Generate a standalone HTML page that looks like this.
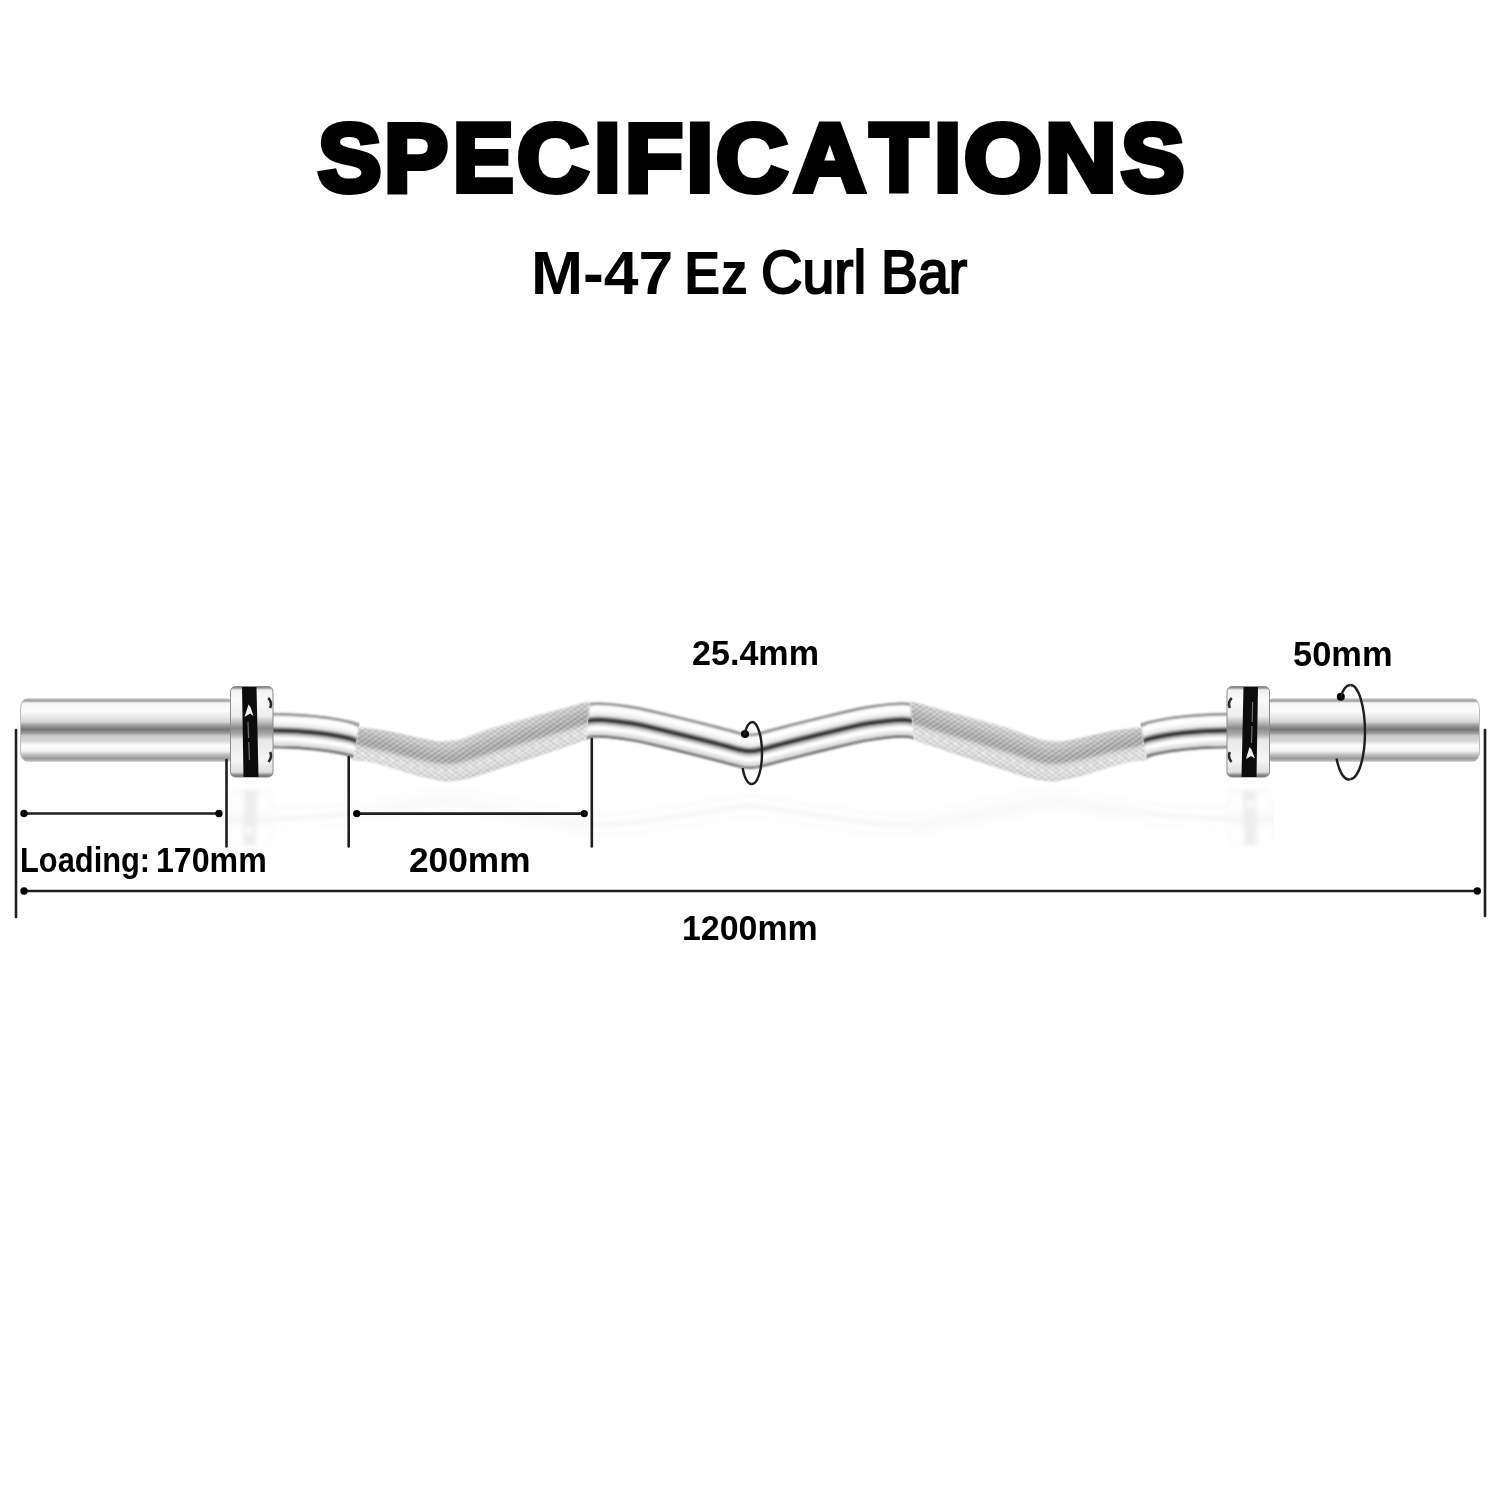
<!DOCTYPE html>
<html><head><meta charset="utf-8"><style>
html,body{margin:0;padding:0;background:#fff;}
body{width:1500px;height:1500px;position:relative;overflow:hidden;}
.t{position:absolute;white-space:pre;font-family:"Liberation Sans",sans-serif;font-weight:bold;color:#000;transform-origin:0 0;}
svg{position:absolute;left:0;top:0;}
</style></head><body>
<svg width="1500" height="1500" viewBox="0 0 1500 1500">
<defs>
<linearGradient id="sg" gradientUnits="userSpaceOnUse" x1="0" y1="698" x2="0" y2="763"><stop offset="0.0000" stop-color="#ffffff"/><stop offset="0.0231" stop-color="#b0b0b0"/><stop offset="0.0462" stop-color="#a2a2a2"/><stop offset="0.0769" stop-color="#f6f6f6"/><stop offset="0.2000" stop-color="#fbfbfb"/><stop offset="0.2769" stop-color="#ececec"/><stop offset="0.3692" stop-color="#d6d6d6"/><stop offset="0.4154" stop-color="#a2a2a2"/><stop offset="0.4846" stop-color="#767676"/><stop offset="0.5385" stop-color="#999999"/><stop offset="0.5846" stop-color="#cccccc"/><stop offset="0.6615" stop-color="#d6d6d6"/><stop offset="0.7231" stop-color="#fbfbfb"/><stop offset="0.8154" stop-color="#f4f4f4"/><stop offset="0.8769" stop-color="#bcbcbc"/><stop offset="0.9308" stop-color="#9c9c9c"/><stop offset="0.9692" stop-color="#b4b4b4"/><stop offset="1.0000" stop-color="#ffffff"/></linearGradient>
<linearGradient id="cg" gradientUnits="userSpaceOnUse" x1="0" y1="686" x2="0" y2="777"><stop offset="0.0000" stop-color="#6a6a6a"/><stop offset="0.0220" stop-color="#9a9a9a"/><stop offset="0.0440" stop-color="#f0f0f0"/><stop offset="0.1538" stop-color="#fafafa"/><stop offset="0.3297" stop-color="#eeeeee"/><stop offset="0.3956" stop-color="#c0c0c0"/><stop offset="0.4615" stop-color="#8a8a8a"/><stop offset="0.5275" stop-color="#a8a8a8"/><stop offset="0.5934" stop-color="#e8e8e8"/><stop offset="0.8132" stop-color="#f6f6f6"/><stop offset="0.9451" stop-color="#e0e0e0"/><stop offset="0.9780" stop-color="#8a8a8a"/><stop offset="1.0000" stop-color="#6a6a6a"/></linearGradient>
<path id="cl" d="M262.00,730.50 C266.67,730.58 282.00,730.68 290.00,731.00 C298.00,731.32 303.33,731.78 310.00,732.40 C316.67,733.02 323.33,733.65 330.00,734.70 C336.67,735.75 344.50,737.23 350.00,738.70 C355.50,740.17 356.33,741.70 363.00,743.50 C369.67,745.30 381.00,747.37 390.00,749.50 C399.00,751.63 409.17,754.50 417.00,756.30 C424.83,758.10 431.50,759.52 437.00,760.30 C442.50,761.08 445.83,761.22 450.00,761.00 C454.17,760.78 455.33,760.83 462.00,759.00 C468.67,757.17 478.67,753.50 490.00,750.00 C501.33,746.50 516.67,742.00 530.00,738.00 C543.33,734.00 560.83,728.78 570.00,726.00 C579.17,723.22 580.50,722.30 585.00,721.30 C589.50,720.30 592.83,720.10 597.00,720.00 C601.17,719.90 604.50,720.15 610.00,720.70 C615.50,721.25 623.33,722.20 630.00,723.30 C636.67,724.40 638.33,724.60 650.00,727.30 C661.67,730.00 687.50,736.38 700.00,739.50 C712.50,742.62 718.33,744.25 725.00,746.00 C731.67,747.75 735.83,749.12 740.00,750.00 C744.17,750.88 746.67,751.30 750.00,751.30 C753.33,751.30 755.83,750.88 760.00,750.00 C764.17,749.12 768.33,747.75 775.00,746.00 C781.67,744.25 787.50,742.62 800.00,739.50 C812.50,736.38 838.33,730.00 850.00,727.30 C861.67,724.60 863.33,724.40 870.00,723.30 C876.67,722.20 884.50,721.25 890.00,720.70 C895.50,720.15 898.83,719.90 903.00,720.00 C907.17,720.10 910.50,720.30 915.00,721.30 C919.50,722.30 920.83,723.22 930.00,726.00 C939.17,728.78 956.67,734.00 970.00,738.00 C983.33,742.00 998.67,746.50 1010.00,750.00 C1021.33,753.50 1031.33,757.17 1038.00,759.00 C1044.67,760.83 1045.83,760.78 1050.00,761.00 C1054.17,761.22 1057.50,761.08 1063.00,760.30 C1068.50,759.52 1075.17,758.10 1083.00,756.30 C1090.83,754.50 1101.00,751.63 1110.00,749.50 C1119.00,747.37 1130.33,745.30 1137.00,743.50 C1143.67,741.70 1144.50,740.17 1150.00,738.70 C1155.50,737.23 1163.33,735.75 1170.00,734.70 C1176.67,733.65 1183.33,733.02 1190.00,732.40 C1196.67,731.78 1202.00,731.32 1210.00,731.00 C1218.00,730.68 1233.33,730.58 1238.00,730.50" fill="none"/>
<filter id="bl" x="-5%" y="-50%" width="110%" height="200%"><feGaussianBlur stdDeviation="0.8"/></filter>
<filter id="bl2" x="-5%" y="-50%" width="110%" height="200%"><feGaussianBlur stdDeviation="1.3"/></filter>
<filter id="rb" x="-5%" y="-20%" width="110%" height="140%"><feGaussianBlur stdDeviation="2"/></filter>
<pattern id="kh1" width="4" height="4" patternUnits="userSpaceOnUse" patternTransform="rotate(55)"><rect x="0" y="0" width="1.3" height="4" fill="#ffffff" opacity="0.35"/></pattern>
<pattern id="kh2" width="4" height="4" patternUnits="userSpaceOnUse" patternTransform="rotate(-55)"><rect x="0" y="0" width="1.2" height="4" fill="#000000" opacity="0.07"/></pattern>
<filter id="bl3" x="-5%" y="-20%" width="110%" height="140%"><feGaussianBlur stdDeviation="0.5"/></filter>
<clipPath id="rc"><rect x="226" y="770" width="1048" height="120"/></clipPath>
<clipPath id="kc"><path d="M359.00,727.50 C361.67,727.78 369.83,728.53 375.00,729.20 C380.17,729.87 383.00,730.15 390.00,731.50 C397.00,732.85 409.17,735.72 417.00,737.30 C424.83,738.88 431.50,740.47 437.00,741.00 C442.50,741.53 445.83,740.92 450.00,740.50 C454.17,740.08 455.33,740.50 462.00,738.50 C468.67,736.50 478.67,732.03 490.00,728.50 C501.33,724.97 516.67,721.00 530.00,717.30 C543.33,713.60 561.33,708.68 570.00,706.30 C578.67,703.92 578.67,703.80 582.00,703.00 C585.33,702.20 588.67,701.75 590.00,701.50 L586.00,739.50 C583.33,740.47 579.33,742.10 570.00,745.30 C560.67,748.50 543.33,754.25 530.00,758.70 C516.67,763.15 500.00,768.78 490.00,772.00 C480.00,775.22 476.67,776.45 470.00,778.00 C463.33,779.55 455.50,781.00 450.00,781.30 C444.50,781.60 442.50,780.80 437.00,779.80 C431.50,778.80 424.83,777.38 417.00,775.30 C409.17,773.22 397.83,769.52 390.00,767.30 C382.17,765.08 376.17,763.22 370.00,762.00 C363.83,760.78 355.83,760.33 353.00,760.00 Z"/><path d="M1141.00,727.50 C1138.33,727.78 1130.17,728.53 1125.00,729.20 C1119.83,729.87 1117.00,730.15 1110.00,731.50 C1103.00,732.85 1090.83,735.72 1083.00,737.30 C1075.17,738.88 1068.50,740.47 1063.00,741.00 C1057.50,741.53 1054.17,740.92 1050.00,740.50 C1045.83,740.08 1044.67,740.50 1038.00,738.50 C1031.33,736.50 1021.33,732.03 1010.00,728.50 C998.67,724.97 983.33,721.00 970.00,717.30 C956.67,713.60 938.67,708.68 930.00,706.30 C921.33,703.92 921.33,703.80 918.00,703.00 C914.67,702.20 911.33,701.75 910.00,701.50 L914.00,739.50 C916.67,740.47 920.67,742.10 930.00,745.30 C939.33,748.50 956.67,754.25 970.00,758.70 C983.33,763.15 1000.00,768.78 1010.00,772.00 C1020.00,775.22 1023.33,776.45 1030.00,778.00 C1036.67,779.55 1044.50,781.00 1050.00,781.30 C1055.50,781.60 1057.50,780.80 1063.00,779.80 C1068.50,778.80 1075.17,777.38 1083.00,775.30 C1090.83,773.22 1102.17,769.52 1110.00,767.30 C1117.83,765.08 1123.83,763.22 1130.00,762.00 C1136.17,760.78 1144.17,760.33 1147.00,760.00 Z"/></clipPath>
<clipPath id="sc"><path d="M250,680 L367.5,680 L346,800 L250,800 Z"/><path d="M592.3,680 L907.7,680 L920.3,800 L579.7,800 Z"/><path d="M1250,680 L1132.5,680 L1154,800 L1250,800 Z"/></clipPath>
</defs>
<g id="bar"><g fill="none" stroke-linecap="butt">
<g filter="url(#bl)" clip-path="url(#sc)"><use href="#cl" transform="translate(0,0)" stroke="#a0a0a0" stroke-width="35" /><use href="#cl" transform="translate(0,-0.5)" stroke="#fdfdfd" stroke-width="31.5" /><use href="#cl" transform="translate(0,-5)" stroke="#eeeeee" stroke-width="6" /><use href="#cl" transform="translate(0,-2.5)" stroke="#d2d2d2" stroke-width="4" /><use href="#cl" transform="translate(0,0)" stroke="#808080" stroke-width="6.5" /><use href="#cl" transform="translate(0,0)" stroke="#333333" stroke-width="3.6" /><use href="#cl" transform="translate(0,4.2)" stroke="#cccccc" stroke-width="2.5" /><use href="#cl" transform="translate(0,12.8)" stroke="#e2e2e2" stroke-width="4" /><use href="#cl" transform="translate(0,-16.2)" stroke="#808080" stroke-width="2.2" /><use href="#cl" transform="translate(0,16.3)" stroke="#626262" stroke-width="2.4" /></g>
<g filter="url(#bl2)"><g clip-path="url(#kc)"><use href="#cl" transform="translate(0,0.5)" stroke="#dadada" stroke-width="46" /><use href="#cl" transform="translate(0,-7)" stroke="#c6c6c6" stroke-width="22" /><use href="#cl" transform="translate(0,-4.5)" stroke="#b3b3b3" stroke-width="14" /><use href="#cl" transform="translate(0,-2)" stroke="#a6a6a6" stroke-width="7" /><use href="#cl" transform="translate(0,10.5)" stroke="#ececec" stroke-width="4" stroke-dasharray="4 6"/><use href="#cl" transform="translate(0,15)" stroke="#e6e6e6" stroke-width="3" stroke-dasharray="3 7" stroke-dashoffset="5"/><use href="#cl" transform="translate(0,19.5)" stroke="#d0d0d0" stroke-width="3" /></g></g>
<g clip-path="url(#kc)" filter="url(#bl3)"><rect x="340" y="690" width="820" height="100" fill="url(#kh1)"/><rect x="340" y="690" width="820" height="100" fill="url(#kh2)"/></g>
</g>
<g>
<rect x="20" y="698.5" width="214" height="63" rx="6.5" ry="11" fill="url(#sg)"/>
<rect x="20.5" y="699" width="213" height="62" rx="6" ry="10.5" fill="none" stroke="#bdbdbd" stroke-width="1"/>
<rect x="230.5" y="686.5" width="42.5" height="90.5" rx="5" fill="url(#cg)" stroke="#8a8a8a" stroke-width="1"/>
<path d="M242,687 L256.5,687 L258.5,777 L243.5,777 Z" fill="#0c0c0c"/>
<path d="M268.2,698 Q272.5,702 270.2,708" stroke="#2a2a2a" stroke-width="2.6" fill="none"/>
<path d="M270.2,752 Q272.5,757 268.5,762" stroke="#2a2a2a" stroke-width="2.6" fill="none"/>
</g>
<g transform="matrix(-1,0,0,1,1500,0)">
<rect x="20" y="698.5" width="214" height="63" rx="6.5" ry="11" fill="url(#sg)"/>
<rect x="20.5" y="699" width="213" height="62" rx="6" ry="10.5" fill="none" stroke="#bdbdbd" stroke-width="1"/>
<rect x="230.5" y="686.5" width="42.5" height="90.5" rx="5" fill="url(#cg)" stroke="#8a8a8a" stroke-width="1"/>
<path d="M242,687 L256.5,687 L258.5,777 L243.5,777 Z" fill="#0c0c0c"/>
<path d="M268.2,698 Q272.5,702 270.2,708" stroke="#2a2a2a" stroke-width="2.6" fill="none"/>
<path d="M270.2,752 Q272.5,757 268.5,762" stroke="#2a2a2a" stroke-width="2.6" fill="none"/>
</g>
<path d="M244.5,717 L248.5,704.5 L250.5,707 L253.5,716 L250,713.5 Z" fill="#f2f2f2"/>
<path d="M248,722 L248.6,738 M248.8,742 L249.4,760" stroke="#8a8a8a" stroke-width="1.2" opacity="0.8"/>
<path d="M1246,759 L1249.5,747 L1251.5,749.5 L1255,758.5 L1251,756 Z" fill="#f2f2f2"/>
<path d="M1252.6,702 L1252.2,722 M1252,726 L1251.5,743" stroke="#8a8a8a" stroke-width="1.2" opacity="0.8"/></g>
<g clip-path="url(#rc)"><g filter="url(#rb)" opacity="0.07"><use href="#bar" transform="translate(0,1264) scale(1,-0.61)"/></g></g>
<g stroke="#1e1e1e" stroke-width="2.6" fill="none" stroke-linecap="round">
<path d="M16,730 V917"/>
<path d="M1485,730 V916"/>
<path d="M226.5,760 V846.5"/>
<path d="M348.7,757 V846.5"/>
<path d="M591.8,739 V846.5"/>
<path d="M24,813.5 H219"/>
<path d="M356.7,813.6 H584.2"/>
<path d="M24,891 H1477.3"/>
</g>
<g fill="#000">
<circle cx="24" cy="813.5" r="3.7"/><circle cx="219" cy="813.5" r="3.7"/>
<circle cx="356.7" cy="813.6" r="3.7"/><circle cx="584.2" cy="813.6" r="3.7"/>
<circle cx="24" cy="891" r="3.7"/><circle cx="1477.3" cy="891" r="3.7"/>
<circle cx="745" cy="734" r="4"/>
<circle cx="1340.8" cy="696.8" r="4"/>
</g>
<g stroke="#1e1e1e" stroke-width="2.4" fill="none">
<path d="M752,722 A10,31 0 0 1 752,784"/>
<path d="M752,722 A10,31 0 0 0 744.2,735.5"/>
<path d="M742.6,768 A10,31 0 0 0 752,784"/>
<path d="M1350.5,685 A14.5,47 0 0 1 1350.5,779"/>
<path d="M1350.5,685 A14.5,47 0 0 0 1340.5,697"/>
<path d="M1336.5,758.5 A14.5,47 0 0 0 1350.5,779"/>
</g>
</svg>
<div class="t" style="left:317.59px;top:110.00px;font-size:96px;line-height:96px;transform:scaleX(0.9906);-webkit-text-stroke:6px #000;">S</div>
<div class="t" style="left:384.00px;top:110.00px;font-size:96px;line-height:96px;transform:scaleX(1.0000);-webkit-text-stroke:6px #000;">P</div>
<div class="t" style="left:452.76px;top:110.00px;font-size:96px;line-height:96px;transform:scaleX(0.9467);-webkit-text-stroke:6px #000;">E</div>
<div class="t" style="left:516.96px;top:110.00px;font-size:96px;line-height:96px;transform:scaleX(1.0377);-webkit-text-stroke:6px #000;">C</div>
<div class="t" style="left:594.00px;top:110.00px;font-size:96px;line-height:96px;transform:scaleX(1.0000);-webkit-text-stroke:6px #000;">I</div>
<div class="t" style="left:625.03px;top:110.00px;font-size:96px;line-height:96px;transform:scaleX(0.9891);-webkit-text-stroke:6px #000;">F</div>
<div class="t" style="left:686.40px;top:110.00px;font-size:96px;line-height:96px;transform:scaleX(1.0000);-webkit-text-stroke:6px #000;">I</div>
<div class="t" style="left:716.36px;top:110.00px;font-size:96px;line-height:96px;transform:scaleX(1.0377);-webkit-text-stroke:6px #000;">C</div>
<div class="t" style="left:793.67px;top:110.00px;font-size:96px;line-height:96px;transform:scaleX(1.0329);-webkit-text-stroke:6px #000;">A</div>
<div class="t" style="left:870.37px;top:110.00px;font-size:96px;line-height:96px;transform:scaleX(0.9841);-webkit-text-stroke:6px #000;">T</div>
<div class="t" style="left:933.92px;top:110.00px;font-size:96px;line-height:96px;transform:scaleX(1.0250);-webkit-text-stroke:6px #000;">I</div>
<div class="t" style="left:963.96px;top:110.00px;font-size:96px;line-height:96px;transform:scaleX(1.0411);-webkit-text-stroke:6px #000;">O</div>
<div class="t" style="left:1044.90px;top:110.00px;font-size:96px;line-height:96px;transform:scaleX(1.0317);-webkit-text-stroke:6px #000;">N</div>
<div class="t" style="left:1120.99px;top:110.00px;font-size:96px;line-height:96px;transform:scaleX(0.9906);-webkit-text-stroke:6px #000;">S</div>
<div class="t" style="left:531.10px;top:243.00px;font-size:61px;line-height:61px;transform:scaleX(1.0242);">M-47</div>
<div class="t" style="left:683.61px;top:243.00px;font-size:61px;line-height:61px;transform:scaleX(0.8985);">Ez</div>
<div class="t" style="left:760.55px;top:241.00px;font-size:62px;line-height:62px;transform:scaleX(0.9248);font-weight:normal;-webkit-text-stroke:2.2px #000;">Curl</div>
<div class="t" style="left:881.23px;top:241.00px;font-size:62px;line-height:62px;transform:scaleX(0.8924);font-weight:normal;-webkit-text-stroke:2.2px #000;">Bar</div>
<div class="t" style="left:19.81px;top:843.40px;font-size:34.5px;line-height:34.5px;transform:scaleX(0.8936);">Loading:</div>
<div class="t" style="left:155.64px;top:843.40px;font-size:34.5px;line-height:34.5px;transform:scaleX(0.9313);">170mm</div>
<div class="t" style="left:409.28px;top:842.90px;font-size:34.5px;line-height:34.5px;transform:scaleX(1.0216);">200mm</div>
<div class="t" style="left:692.01px;top:636.00px;font-size:34.5px;line-height:34.5px;transform:scaleX(0.9880);">25.4mm</div>
<div class="t" style="left:1293.40px;top:636.60px;font-size:34.5px;line-height:34.5px;transform:scaleX(0.9979);">50mm</div>
<div class="t" style="left:681.93px;top:910.50px;font-size:34.5px;line-height:34.5px;transform:scaleX(0.9828);">1200mm</div>
</body></html>
